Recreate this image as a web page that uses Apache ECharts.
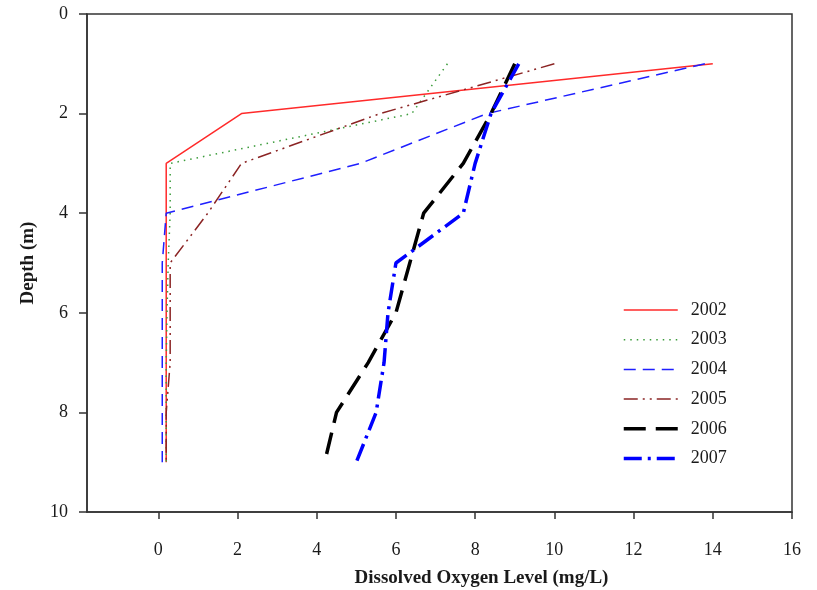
<!DOCTYPE html>
<html>
<head>
<meta charset="utf-8">
<script src="https://cdn.jsdelivr.net/npm/echarts@6/dist/echarts.min.js"></script>
<style>
  html, body { margin: 0; padding: 0; background: #fff; }
  #chart { width: 817px; height: 590px; }
</style>
</head>
<body>
<div id="chart"></div>
<script>
// depth (m) at each measurement
let depths = [1, 2, 3, 4, 5, 6, 7, 8, 9];
// dissolved oxygen (mg/L) per year
let do2002 = [14.0, 2.1, 0.2, 0.2, 0.2, 0.2, 0.2, 0.2, 0.2];
let do2003 = [7.3, 6.4, 0.3, 0.3, 0.25, 0.22, 0.2, 0.2, 0.2];
let do2004 = [13.8, 8.3, 5.1, 0.2, 0.1, 0.1, 0.1, 0.1, 0.1];
let do2005 = [10.0, 5.6, 2.1, 1.25, 0.3, 0.3, 0.3, 0.2, 0.2];
let do2006 = [9.0, 8.4, 7.7, 6.7, 6.35, 6.0, 5.3, 4.5, 4.2];
let do2007 = [9.1, 8.4, 8.0, 7.7, 6.0, 5.8, 5.7, 5.5, 5.0];
let years = ['2002', '2003', '2004', '2005', '2006', '2007'];
let xTicks = [0, 2, 4, 6, 8, 10, 12, 14, 16];

let font = '"Liberation Serif", "DejaVu Serif", serif';

// line look per year: colour, width, dash
let styles = {
    '2002': { color: '#ff2a2a', width: 1.5, type: 'solid' },
    '2003': { color: '#3c9c3c', width: 1.5, type: [1.5, 5] },
    '2004': { color: '#1f1fff', width: 1.5, type: [12, 7] },
    '2005': { color: '#8b2424', width: 1.5, type: [14, 5, 2, 5, 2, 5] },
    '2006': { color: '#000000', width: 3.5, type: [22, 10] },
    '2007': { color: '#0000ff', width: 3.5, type: [18, 6, 3, 6] }
};

function pairs(vals) {
    return vals.map(function (v, i) { return [v, depths[i]]; });
}

function line(name, vals) {
    let s = styles[name];
    return {
        name: name,
        type: 'line',
        data: pairs(vals),
        symbol: 'none',
        animation: false,
        lineStyle: { color: s.color, width: s.width, type: s.type, cap: 'butt' },
        itemStyle: { color: s.color }
    };
}

let chart = echarts.init(document.getElementById('chart'), null, { renderer: 'canvas' });

chart.setOption({
    backgroundColor: '#fff',
    animation: false,
    grid: {
        left: 87, right: 25, top: 14, bottom: 78,
        outerBoundsMode: 'none',
        containLabel: false,
        show: true, borderColor: '#333', borderWidth: 1.5, backgroundColor: 'transparent'
    },
    legend: {
        orient: 'vertical',
        left: 617,
        top: 296,
        itemWidth: 54,
        itemHeight: 14,
        itemGap: 11.7,
        itemStyle: { opacity: 0 },
        textStyle: { fontFamily: font, fontSize: 18, color: '#1a1a1a', padding: [0, 0, 0, 8] },
        data: years.map(function (y) {
            let s = styles[y];
            return {
                name: y,
                itemStyle: { opacity: 0 },
                lineStyle: { color: s.color, width: s.width, type: s.type, cap: 'butt' }
            };
        })
    },
    xAxis: {
        type: 'value',
        min: -1.8,
        max: 16,
        splitLine: { show: false },
        axisLine: { onZero: false, lineStyle: { color: '#333', width: 1.5 } },
        axisTick: { customValues: xTicks, length: 7, lineStyle: { color: '#333', width: 1.5 } },
        axisLabel: { customValues: xTicks, margin: 29, fontFamily: font, fontSize: 18, color: '#1a1a1a' },
        name: 'Dissolved Oxygen Level (mg/L)',
        nameLocation: 'middle',
        nameGap: 57,
        nameTextStyle: { fontFamily: font, fontSize: 19, fontWeight: 'bold', color: '#1a1a1a', padding: [0, 0, 0, 84] }
    },
    yAxis: {
        type: 'value',
        inverse: true,
        min: 0,
        max: 10,
        interval: 2,
        splitLine: { show: false },
        axisLine: { onZero: false, lineStyle: { color: '#333', width: 1.5 } },
        axisTick: { length: 8, lineStyle: { color: '#333', width: 1.5 } },
        axisLabel: { margin: 19, fontFamily: font, fontSize: 18, color: '#1a1a1a' },
        name: 'Depth (m)',
        nameLocation: 'middle',
        nameGap: 49,
        nameTextStyle: { fontFamily: font, fontSize: 19, fontWeight: 'bold', color: '#1a1a1a' }
    },
    series: [
        line('2002', do2002),
        line('2003', do2003),
        line('2004', do2004),
        line('2005', do2005),
        line('2006', do2006),
        line('2007', do2007)
    ]
});
</script>
</body>
</html>
